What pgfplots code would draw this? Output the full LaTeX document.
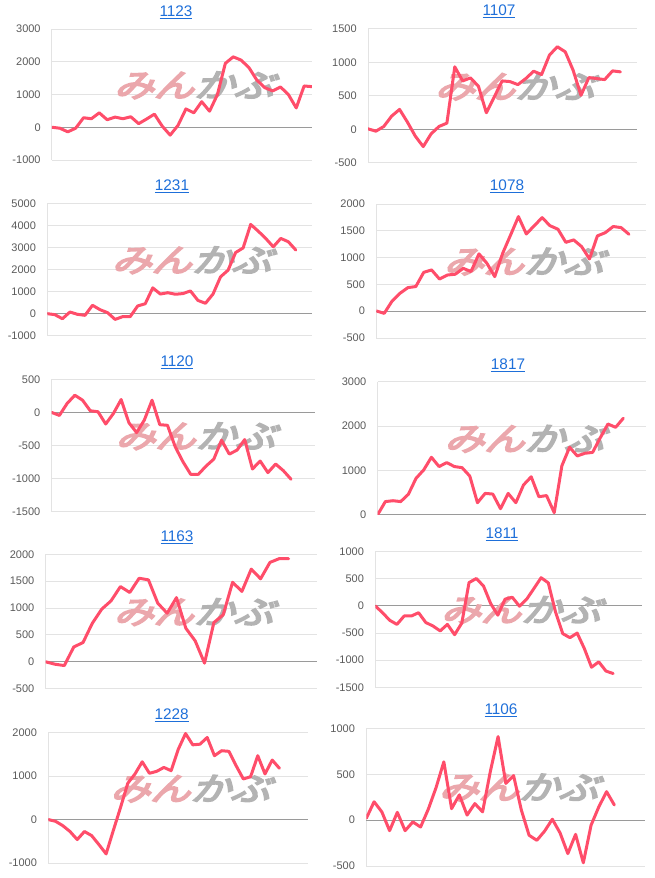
\documentclass[border=0pt]{standalone}
\usepackage{pgfplots}
\pgfplotsset{compat=1.18}
\usepackage{fontspec}
\setmainfont{Liberation Sans}
\newfontfamily\wmfont{Noto Sans CJK JP}[FakeSlant=0.3, FakeBold=5]
\definecolor{linec}{HTML}{FF4D6A}
\definecolor{titlec}{HTML}{1E6FD9}
\definecolor{tickc}{HTML}{5A5A5A}
\definecolor{gridc}{HTML}{E3E3E3}
\definecolor{zeroc}{HTML}{9A9A9A}
\definecolor{wmpink}{HTML}{EBA7AC}
\definecolor{wmgray}{HTML}{B3B3B3}
\pgfplotsset{
  panel/.style={anchor=north west, scale only axis, xmin=0,
    hide x axis, axis y line=left,
    y axis line style={draw=gridc, -, line width=0.75pt},
    ymajorgrids, grid style={draw=gridc, line width=0.75pt},
    ytick style={draw=none}, major tick length=0pt, scaled y ticks=false,
    yticklabel style={font=\fontsize{8.25}{9}\selectfont, text=tickc, xshift=-5pt},
    /pgf/number format/1000 sep={}, /pgf/number format/assume math mode=true,
    extra y ticks={0}, extra y tick labels={},
    extra y tick style={grid style={draw=zeroc, line width=0.75pt}},
  },
  ser/.style={draw=linec, line width=2.25pt, line join=round, line cap=round, mark=none},
}
\newcommand\wm{\node at (axis description cs:0.545,0.57) {\scalebox{1}[0.8]{\wmfont\fontsize{30}{30}\selectfont{\color{wmpink}みん}{\color{wmgray}かぶ}}};}
\newcommand\ttl[3]{\node[anchor=base, font=\fontsize{11.5}{12}\selectfont, text=titlec] at (#1pt,-#2pt) {\underline{#3}};}
\begin{document}
\begin{tikzpicture}
\useasboundingbox (0,0) rectangle (490.5pt,-658.5pt);
% ---------- 1123
\ttl{132}{12.25}{1123}
\begin{axis}[panel, at={(39pt,-21.75pt)}, width=195pt, height=98.25pt, xmax=33, ymin=-1000, ymax=3000, ytick distance=1000]
\wm
\addplot[ser] coordinates {(0,0)(1,-30)(2,-140)(3,-30)(4,290)(5,260)(6,440)(7,230)(8,310)(9,260)(10,320)(11,110)(12,250)(13,400)(14,30)(15,-240)(16,60)(17,560)(18,440)(19,780)(20,490)(21,1000)(22,1950)(23,2150)(24,2050)(25,1820)(26,1440)(27,1210)(28,1110)(29,1230)(30,1000)(31,590)(32,1260)(33,1240)};
\end{axis}
% ---------- 1107
\ttl{374.25}{11.75}{1107}
\begin{axis}[panel, at={(276pt,-21.75pt)}, width=201.75pt, height=100.5pt, xmax=34.1, ymin=-500, ymax=1500, ytick distance=500]
\wm
\addplot[ser] coordinates {(0,10)(1,-25)(2,45)(3,200)(4,300)(5,110)(6,-100)(7,-255)(8,-65)(9,45)(10,95)(11,935)(12,725)(13,770)(14,645)(15,250)(16,485)(17,725)(18,715)(19,670)(20,760)(21,870)(22,820)(23,1110)(24,1235)(25,1160)(26,885)(27,510)(28,775)(29,760)(30,745)(31,875)(32,860)};
\end{axis}
% ---------- 1231
\ttl{129}{142.5}{1231}
\begin{axis}[panel, at={(35.5pt,-152.5pt)}, width=198.25pt, height=99.3pt, xmax=35.1, ymin=-1000, ymax=5000, ytick distance=1000]
\wm
\addplot[ser] coordinates {(0,0)(1,-45)(2,-230)(3,75)(4,-30)(5,-75)(6,380)(7,180)(8,45)(9,-260)(10,-135)(11,-135)(12,350)(13,450)(14,1170)(15,890)(16,950)(17,880)(18,910)(19,1030)(20,600)(21,470)(22,890)(23,1670)(24,1970)(25,2770)(26,2980)(27,4045)(28,3740)(29,3410)(30,3030)(31,3410)(32,3260)(33,2880)};
\end{axis}
% ---------- 1078
\ttl{380.25}{142.5}{1078}
\begin{axis}[panel, at={(282.25pt,-153pt)}, width=202.5pt, height=100.5pt, xmax=34.2, ymin=-500, ymax=2000, ytick distance=500]
\wm
\addplot[ser] coordinates {(0,5)(1,-40)(2,190)(3,335)(4,440)(5,460)(6,725)(7,770)(8,600)(9,675)(10,690)(11,800)(12,740)(13,1070)(14,895)(15,645)(16,1080)(17,1420)(18,1765)(19,1440)(20,1595)(21,1745)(22,1595)(23,1530)(24,1285)(25,1330)(26,1205)(27,975)(28,1405)(29,1465)(30,1580)(31,1560)(32,1435)};
\end{axis}
% ---------- 1120
\ttl{132.75}{274.75}{1120}
\begin{axis}[panel, at={(38.75pt,-284.5pt)}, width=197.5pt, height=99.25pt, xmax=34.1, ymin=-1500, ymax=500, ytick distance=500]
\wm
\addplot[ser] coordinates {(0,0)(1,-45)(2,135)(3,260)(4,185)(5,25)(6,10)(7,-175)(8,-15)(9,195)(10,-155)(11,-305)(12,-115)(13,185)(14,-185)(15,-195)(16,-520)(17,-745)(18,-935)(19,-935)(20,-810)(21,-705)(22,-420)(23,-630)(24,-570)(25,-410)(26,-855)(27,-735)(28,-910)(29,-780)(30,-880)(31,-1010)};
\end{axis}
% ---------- 1817
\ttl{381}{277}{1817}
\begin{axis}[panel, at={(283.25pt,-286.25pt)}, width=201.5pt, height=99.75pt, xmax=35, ymin=0, ymax=3000, ytick distance=1000]
\wm
\addplot[ser] coordinates {(0,0)(1,295)(2,315)(3,295)(4,460)(5,820)(6,1010)(7,1295)(8,1085)(9,1175)(10,1085)(11,1060)(12,870)(13,270)(14,480)(15,465)(16,135)(17,480)(18,270)(19,670)(20,855)(21,405)(22,430)(23,45)(24,1105)(25,1520)(26,1325)(27,1385)(28,1405)(29,1735)(30,2045)(31,1970)(32,2175)};
\end{axis}
% ---------- 1163
\ttl{132.75}{405.75}{1163}
\begin{axis}[panel, at={(34.25pt,-415.75pt)}, width=203.25pt, height=100.75pt, xmax=29, ymin=-500, ymax=2000, ytick distance=500]
\wm
\addplot[ser] coordinates {(0,0)(1,-45)(2,-70)(3,275)(4,360)(5,720)(6,980)(7,1135)(8,1400)(9,1290)(10,1555)(11,1525)(12,1090)(13,905)(14,1195)(15,625)(16,390)(17,-25)(18,730)(19,875)(20,1480)(21,1310)(22,1725)(23,1545)(24,1850)(25,1920)(26,1920)};
\end{axis}
% ---------- 1811
\ttl{376.5}{403.75}{1811}
\begin{axis}[panel, at={(281.5pt,-413.75pt)}, width=200pt, height=101.75pt, xmax=37, ymin=-1500, ymax=1000, ytick distance=500]
\wm
\addplot[ser] coordinates {(0,0)(1,-125)(2,-265)(3,-340)(4,-185)(5,-185)(6,-125)(7,-305)(8,-370)(9,-460)(10,-340)(11,-530)(12,-315)(13,430)(14,505)(15,370)(16,45)(17,-170)(18,125)(19,160)(20,-5)(21,125)(22,320)(23,520)(24,425)(25,-110)(26,-510)(27,-585)(28,-500)(29,-785)(30,-1130)(31,-1030)(32,-1200)(33,-1245)};
\end{axis}
% ---------- 1228
\ttl{128.75}{539.25}{1228}
\begin{axis}[panel, at={(36.25pt,-549.5pt)}, width=195pt, height=97.75pt, xmax=36, ymin=-1000, ymax=2000, ytick distance=1000]
\wm
\addplot[ser] coordinates {(0,0)(1,-40)(2,-140)(3,-275)(4,-460)(5,-275)(6,-370)(7,-575)(8,-790)(9,-250)(10,280)(11,835)(12,1050)(13,1330)(14,1065)(15,1110)(16,1200)(17,1125)(18,1620)(19,1980)(20,1720)(21,1735)(22,1890)(23,1470)(24,1585)(25,1570)(26,1240)(27,935)(28,985)(29,1470)(30,1050)(31,1370)(32,1180)};
\end{axis}
% ---------- 1106
\ttl{375.75}{535.5}{1106}
\begin{axis}[panel, at={(274.75pt,-546.25pt)}, width=209.25pt, height=103.25pt, xmax=36, ymin=-500, ymax=1000, ytick distance=500]
\wm
\addplot[ser] coordinates {(0,20)(1,200)(2,90)(3,-115)(4,85)(5,-115)(6,-20)(7,-75)(8,120)(9,355)(10,635)(11,125)(12,275)(13,55)(14,180)(15,90)(16,530)(17,910)(18,400)(19,485)(20,110)(21,-165)(22,-220)(23,-120)(24,10)(25,-140)(26,-365)(27,-155)(28,-465)(29,-55)(30,145)(31,310)(32,165)};
\end{axis}
\end{tikzpicture}
\end{document}
